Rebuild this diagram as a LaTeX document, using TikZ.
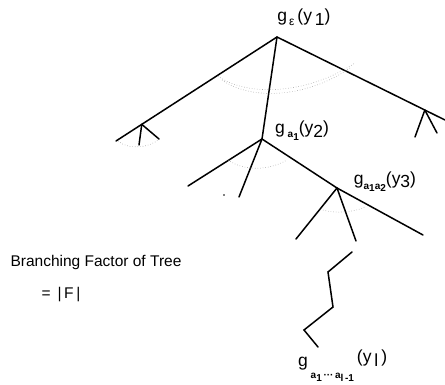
\documentclass[tikz,border=0pt]{standalone}
\usepackage{fontspec}
\setmainfont{Liberation Sans}
\usetikzlibrary{calc}
\newcommand{\sbx}[2]{\raisebox{#1}{#2}}
\begin{document}
\begin{tikzpicture}[x=1pt,y=-1pt,
  edge/.style={line width=1.5pt,line cap=round},
  arcline/.style={line width=0.6pt,dotted,gray!70},
  lbl/.style={inner sep=0pt,font=\fontsize{17.5}{17.5}\selectfont},
  txt/.style={inner sep=0pt,font=\fontsize{15.5}{16}\selectfont}]
\useasboundingbox (0,0) rectangle (445,385);
% tree coordinates
\coordinate (r) at (277,37);
\coordinate (L) at (116,141);
\coordinate (Lj) at ($(r)!0.84!(L)$);
\coordinate (Lc1) at (139,145);
\coordinate (Lc2) at (159,139);
\coordinate (R) at (445,120);
\coordinate (Rj) at ($(r)!0.88!(R)$);
\coordinate (Rc1) at (415,137);
\coordinate (Rc2) at (437,133);
\coordinate (a1) at (262,139);
\coordinate (a1c1) at (188,186);
\coordinate (a1c2) at (239,197);
\coordinate (a12) at (337,188);
\coordinate (a12c1) at (296,239);
\coordinate (a12c2) at (356,241);
\coordinate (a12c3) at (423,235);
\coordinate (z1) at (352,252);
\coordinate (z2) at (328,272);
\coordinate (z3) at (333,307);
\coordinate (z4) at (304,330);
\coordinate (z5) at (318,347);
% edges
\draw[edge] (r) -- (L);
\draw[edge] (Lj) -- (Lc1);
\draw[edge] (Lj) -- (Lc2);
\draw[edge] (r) -- (R);
\draw[edge] (Rj) -- (Rc1);
\draw[edge] (Rj) -- (Rc2);
\draw[edge] (r) -- (a1);
\draw[edge] (a1) -- (a1c1);
\draw[edge] (a1) -- (a1c2);
\draw[edge] (a1) -- (a12);
\draw[edge] (a12) -- (a12c1);
\draw[edge] (a12) -- (a12c2);
\draw[edge] (a12) -- (a12c3);
\draw[edge] (z1) -- (z2) -- (z3) -- (z4) -- (z5);
\fill (224,195) circle (0.9);
% dotted arcs
\draw[arcline] (218,76) .. controls (245,96) and (305,96) .. (355,63);
\draw[arcline] (222,80) .. controls (250,100) and (305,99) .. (350,68);
\draw[arcline] (228,160) .. controls (245,172) and (270,170) .. (287,160);
\draw[arcline] (323,210) .. controls (335,214) and (355,212) .. (365,207);
\draw[arcline] (118,141) .. controls (128,150) and (150,148) .. (159,139);
% labels
\node[lbl] (lr) at (304,17) {g\sbx{-4pt}{\fontsize{12}{12}\selectfont\,ε}\,(y\sbx{-4pt}{\,1})};
\node[lbl] (la1) at (302,131) {g\,\sbx{-4pt}{\fontsize{10}{10}\selectfont\bfseries a\sbx{-3pt}{1}}(y\sbx{-4pt}{2})};
\node[lbl] (la12) at (385,182) {g\sbx{-5pt}{\fontsize{10}{10}\selectfont\bfseries a\sbx{-2pt}{1}a\sbx{-2pt}{2}}(y\sbx{-3pt}{3})};
\node[lbl,anchor=west] (lal) at (298,366) {g\sbx{-12pt}{\fontsize{10}{10}\selectfont\bfseries\ a\sbx{-3pt}{1}\,···\,a\sbx{-3pt}{l\,-1}}\sbx{4pt}{\,(y\sbx{-4pt}{\,l\,})}};
\node[txt] (bf) at (96,262) {Branching Factor of Tree};
\node[txt] (eq) at (61,295) {= \,|\,F\,|};
\end{tikzpicture}
\end{document}
